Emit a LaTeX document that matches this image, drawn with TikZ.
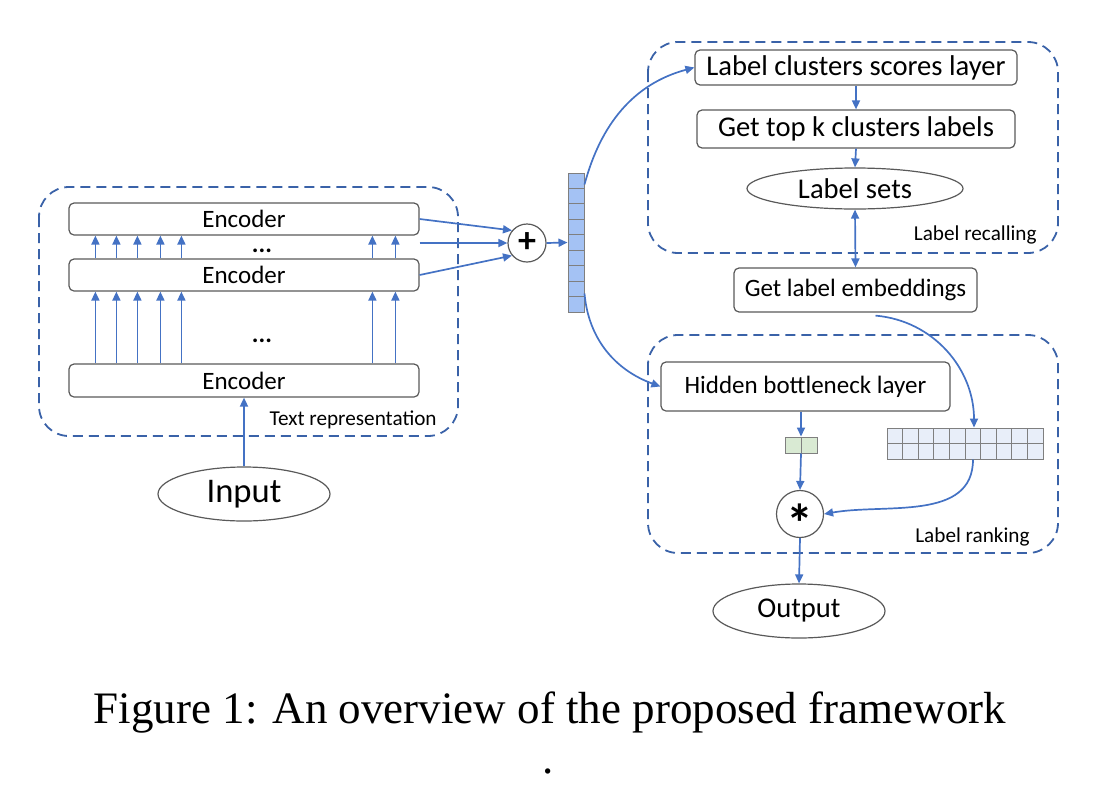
\documentclass[tikz,border=0pt]{standalone}
\usepackage{fontspec}
\setmainfont{Carlito}
\newfontfamily\captionfont{Liberation Serif}
\usepackage{xcolor}
\usetikzlibrary{shapes.geometric,arrows.meta}
\definecolor{arrblue}{HTML}{4472C4}
\definecolor{frameblue}{HTML}{3A62A8}
\definecolor{nodegray}{HTML}{595959}
\definecolor{cellgray}{HTML}{7F7F7F}
\definecolor{vecblue}{HTML}{A4C2F4}
\definecolor{hidgreen}{HTML}{D9EAD3}
\definecolor{embblue}{HTML}{E8EEF9}
\begin{document}
\begin{tikzpicture}[x=0.5pt,y=-0.5pt,
>={Triangle[length=4.5pt,width=4pt]},
% common options for blocks:
block/.style = {draw=nodegray, line width=0.6pt, rounded corners=2.5pt, align=center,
            inner sep=0, font=\fontsize{12.5}{15}\selectfont},
% common options for the circles:
ball/.style = {circle, draw=nodegray, line width=0.6pt, inner sep=0,
            font=\bfseries\fontsize{18}{18}\selectfont},
% common options for the ellipses:
oval/.style = {ellipse, draw=nodegray, line width=0.6pt, inner sep=0,
            font=\fontsize{14.3}{17}\selectfont},
% dashed group frames and their labels:
frame/.style = {draw=frameblue, line width=0.9pt, dash pattern=on 5pt off 3pt,
            rounded corners=15pt},
tag/.style = {anchor=east, inner sep=0, font=\fontsize{10.6}{12}\selectfont},
% vector cells:
cell/.style = {draw=cellgray, line width=0.5pt, inner sep=0},
arr/.style = {draw=arrblue, line width=0.85pt, ->}]
\useasboundingbox (0,0) rectangle (1119,793);
% groups
\draw[frame] (39,187) rectangle (458,436);
\node[tag] (T0) at (437,420) {Text representation};
\draw[frame] (648,42) rectangle (1058,253);
\node[tag] (T1) at (1037,235) {Label recalling};
\draw[frame] (648,335) rectangle (1058,553);
\node[tag] (T2) at (1030,537) {Label ranking};
% text representation
\node[block,minimum width=175pt,minimum height=16pt] (E1) at (244,219) {Encoder};
\node[block,minimum width=175pt,minimum height=16pt] (E2) at (244,275) {Encoder};
\node[block,minimum width=175pt,minimum height=16.5pt] (E3) at (244,380.5) {Encoder};
\node[font=\bfseries\fontsize{12.5}{15}\selectfont,inner sep=0,anchor=base] (D1) at (262,252) {...};
\node[font=\bfseries\fontsize{12.5}{15}\selectfont,inner sep=0,anchor=base] (D2) at (262,342) {...};
\node[oval,minimum width=86pt,minimum height=27pt,font=\fontsize{17.3}{20}\selectfont] (In) at (244,494) {Input};
\node[ball,minimum size=19pt] (Plus) at (527,243) {+};
\node[cell,fill=vecblue,minimum width=8pt,minimum height=69.5pt] (Vec) at (576,242.5) {};
\draw[cellgray,line width=0.5pt] (568,188.4) -- (584,188.4) (568,203.9) -- (584,203.9)
  (568,219.3) -- (584,219.3) (568,234.8) -- (584,234.8) (568,250.2) -- (584,250.2)
  (568,265.7) -- (584,265.7) (568,281.1) -- (584,281.1) (568,296.6) -- (584,296.6);
% label recalling
\node[block,minimum width=161pt,minimum height=17.5pt,font=\fontsize{14.3}{17}\selectfont] (B1) at (856,67.5) {Label clusters scores layer};
\node[block,minimum width=159pt,minimum height=19pt,font=\fontsize{14.3}{17}\selectfont] (B2) at (856,129) {Get top k clusters labels};
\node[oval,minimum width=108pt,minimum height=20.5pt] (B3) at (855,188.5) {Label sets};
\node[block,minimum width=121.5pt,minimum height=22pt] (B4) at (855.5,290) {Get label embeddings};
% label ranking
\node[block,minimum width=144.5pt,minimum height=24.5pt] (C1) at (805.5,386.5) {Hidden bottleneck layer};
\node[cell,fill=hidgreen,minimum width=16pt,minimum height=8pt] (C2) at (801,445) {};
\draw[cellgray,line width=0.5pt] (801,437) -- (801,453);
\node[cell,fill=embblue,minimum width=78pt,minimum height=15.5pt] (C3) at (965,443.5) {};
\draw[cellgray,line width=0.5pt] (887,443.5) -- (1043,443.5)
  (902.6,428) -- (902.6,459) (918.2,428) -- (918.2,459) (933.8,428) -- (933.8,459)
  (949.4,428) -- (949.4,459) (965,428) -- (965,459) (980.6,428) -- (980.6,459)
  (996.2,428) -- (996.2,459) (1011.8,428) -- (1011.8,459) (1027.4,428) -- (1027.4,459);
\node[ball,minimum size=23.5pt,font=\bfseries\fontsize{27}{27}\selectfont] (Star) at (800,514) {\raisebox{-0.52em}[0pt][0pt]{*}};
\node[oval,minimum width=86pt,minimum height=27pt] (Out) at (799,611) {Output};
% caption
\node[anchor=base,inner sep=0,font=\captionfont\fontsize{22.5}{27}\selectfont] (Cap) at (550,723) {Figure 1: An overview of the proposed framework};
\node[anchor=base,inner sep=0,font=\captionfont\fontsize{22.5}{27}\selectfont] (Dot) at (548,773) {.};
% connectors
\draw[arr] (In.north) to (E3.south);
\draw[arr] ([xshift=13.5pt]E3.north west) to ([xshift=13.5pt]E2.south west);
\draw[arr] ([xshift=24pt]E3.north west) to ([xshift=24pt]E2.south west);
\draw[arr] ([xshift=34.5pt]E3.north west) to ([xshift=34.5pt]E2.south west);
\draw[arr] ([xshift=46pt]E3.north west) to ([xshift=46pt]E2.south west);
\draw[arr] ([xshift=56.5pt]E3.north west) to ([xshift=56.5pt]E2.south west);
\draw[arr] ([xshift=152pt]E3.north west) to ([xshift=152pt]E2.south west);
\draw[arr] ([xshift=163.5pt]E3.north west) to ([xshift=163.5pt]E2.south west);
\draw[arr] ([xshift=13.5pt]E2.north west) to ([xshift=13.5pt]E1.south west);
\draw[arr] ([xshift=24pt]E2.north west) to ([xshift=24pt]E1.south west);
\draw[arr] ([xshift=34.5pt]E2.north west) to ([xshift=34.5pt]E1.south west);
\draw[arr] ([xshift=46pt]E2.north west) to ([xshift=46pt]E1.south west);
\draw[arr] ([xshift=56.5pt]E2.north west) to ([xshift=56.5pt]E1.south west);
\draw[arr] ([xshift=152pt]E2.north west) to ([xshift=152pt]E1.south west);
\draw[arr] ([xshift=163.5pt]E2.north west) to ([xshift=163.5pt]E1.south west);
\draw[arr] (E1.east) to (Plus.140);
\draw[arr] (E1.south east |- Plus.west) to (Plus.west);
\draw[arr] (E2.east) to (Plus.220);
\draw[arr] (Plus.east) to (Vec.west);
\draw[arr] ([yshift=-6pt]Vec.north east) to[out=75,in=195] (B1.west);
\draw[arr] ([yshift=9.5pt]Vec.south east) to[out=-85,in=160] (C1.west);
\draw[arr] (B1.south) to (B2.north);
\draw[arr] (B2.south) to (B3.north);
\draw[arr,<->] (B3.south) to (B4.north);
\draw[arr] ([xshift=10pt,yshift=-1.5pt]B4.south) to[out=-5,in=90] ([xshift=4.5pt]C3.north);
\draw[arr] ([xshift=4pt]C3.south) to[out=-90,in=10] (Star.east);
\draw[arr] (C2.north |- C1.south) to (C2.north);
\draw[arr] (C2.south) to (Star.north);
\draw[arr] (Star.south) to (Out.north);
\end{tikzpicture}
\end{document}
